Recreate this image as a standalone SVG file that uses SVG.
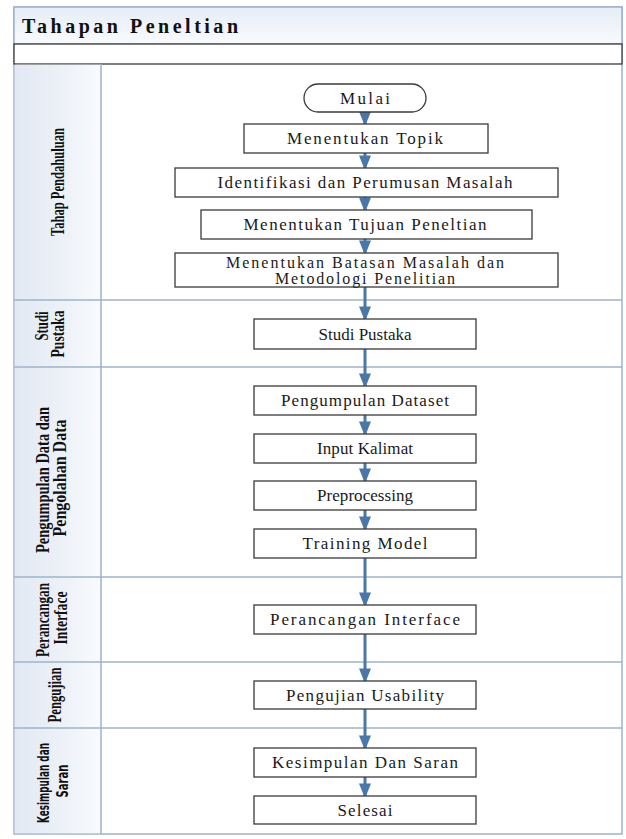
<svg xmlns="http://www.w3.org/2000/svg" width="626" height="839" viewBox="0 0 626 839">
<style>
.box{fill:#ffffff;stroke:#3a3a3a;stroke-width:1.3}
.t{font-family:"Liberation Serif","Times New Roman",serif;font-size:17px;fill:#1a1a1a;text-anchor:middle;dominant-baseline:central}
.t2{font-family:"Liberation Serif","Times New Roman",serif;font-size:16px;fill:#1a1a1a;text-anchor:middle;dominant-baseline:central}
.lane{stroke:#9db3cb;stroke-width:1.5;fill:none}
.lbl{font-family:"Liberation Serif","Times New Roman",serif;font-weight:bold;font-size:18px;fill:#111;text-anchor:middle;dominant-baseline:central}
.lbls{font-family:"DejaVu Sans Condensed","Liberation Sans",sans-serif;font-weight:bold;font-size:15px;fill:#111;text-anchor:middle;dominant-baseline:central}
.arr{stroke:#4a77a9;stroke-width:3;fill:none;marker-end:url(#ah)}
</style>
<defs>
<marker id="ah" markerWidth="5" markerHeight="4" refX="4.2" refY="2" orient="auto" markerUnits="strokeWidth">
<path d="M0,0 L5,2 L0,4 z" fill="#4a77a9"/>
</marker>
<linearGradient id="gTitle" x1="0" y1="0" x2="0" y2="1">
<stop offset="0" stop-color="#e6edf6"/>
<stop offset="1" stop-color="#f8fafd"/>
</linearGradient>
<linearGradient id="gLbl" x1="0" y1="0" x2="1" y2="0">
<stop offset="0" stop-color="#e2e9f3"/>
<stop offset="0.6" stop-color="#eef2f8"/>
<stop offset="1" stop-color="#f9fbfd"/>
</linearGradient>
</defs>

<g id="frame">
<rect x="14" y="7" width="608" height="827" fill="#ffffff" stroke="#9db3cb" stroke-width="1.5"/>
<rect x="14" y="7" width="608" height="37" fill="url(#gTitle)" stroke="#9db3cb" stroke-width="1.5"/>
<text x="22" y="26" font-family="Liberation Serif,'Times New Roman',serif" font-weight="bold" font-size="20" fill="#111" dominant-baseline="central" textLength="216" lengthAdjust="spacing">Tahapan Peneltian</text>
<rect x="14" y="44" width="608" height="20" fill="#ffffff" stroke="#3a3a3a" stroke-width="1.3"/>
<rect x="14.75" y="64.7" width="86.5" height="768.5" fill="url(#gLbl)"/>
<line class="lane" x1="101" y1="64" x2="101" y2="834"/>
<line class="lane" x1="14" y1="300" x2="622" y2="300"/>
<line class="lane" x1="14" y1="367" x2="622" y2="367"/>
<line class="lane" x1="14" y1="577" x2="622" y2="577"/>
<line class="lane" x1="14" y1="662" x2="622" y2="662"/>
<line class="lane" x1="14" y1="728" x2="622" y2="728"/>
</g>

<g id="lane-labels">
<text class="lbl" transform="translate(58,182) rotate(-90)" textLength="108" lengthAdjust="spacingAndGlyphs">Tahap Pendahuluan</text>
<text class="lbl" transform="translate(42,326) rotate(-90)" textLength="29" lengthAdjust="spacingAndGlyphs">Studi</text>
<text class="lbl" transform="translate(58,334) rotate(-90)" textLength="47" lengthAdjust="spacingAndGlyphs">Pustaka</text>
<text class="lbl" transform="translate(43,480) rotate(-90)" textLength="146" lengthAdjust="spacingAndGlyphs">Pengumpulan Data dan</text>
<text class="lbl" transform="translate(60,478) rotate(-90)" textLength="117" lengthAdjust="spacingAndGlyphs">Pengolahan Data</text>
<text class="lbl" transform="translate(43,620) rotate(-90)" textLength="74" lengthAdjust="spacingAndGlyphs">Perancangan</text>
<text class="lbl" transform="translate(61,618) rotate(-90)" textLength="53" lengthAdjust="spacingAndGlyphs">Interface</text>
<text class="lbl" transform="translate(55,695) rotate(-90)" textLength="55" lengthAdjust="spacingAndGlyphs">Pengujian</text>
<text class="lbls" transform="translate(44,783) rotate(-90)" textLength="80" lengthAdjust="spacingAndGlyphs">Kesimpulan dan</text>
<text class="lbls" transform="translate(63,781) rotate(-90)" textLength="33" lengthAdjust="spacingAndGlyphs">Saran</text>
</g>

<g id="connectors">
<line class="arr" x1="365" y1="112" x2="365" y2="124"/>
<line class="arr" x1="365" y1="153" x2="365" y2="168"/>
<line class="arr" x1="365" y1="197" x2="365" y2="210"/>
<line class="arr" x1="365" y1="239" x2="365" y2="253"/>
<line class="arr" x1="365" y1="287" x2="365" y2="319"/>
<line class="arr" x1="365" y1="349" x2="365" y2="386"/>
<line class="arr" x1="365" y1="415" x2="365" y2="434"/>
<line class="arr" x1="365" y1="463" x2="365" y2="481"/>
<line class="arr" x1="365" y1="510" x2="365" y2="529"/>
<line class="arr" x1="365" y1="558" x2="365" y2="605"/>
<line class="arr" x1="365" y1="634" x2="365" y2="681"/>
<line class="arr" x1="365" y1="709" x2="365" y2="748"/>
<line class="arr" x1="365" y1="777" x2="365" y2="796"/>
</g>

<g id="n-mulai">
<rect class="box" x="304" y="84" width="122" height="28" rx="14" ry="14"/>
<text class="t" x="365" y="98" textLength="50" lengthAdjust="spacing">Mulai</text>
</g>
<g id="n-topik">
<rect class="box" x="244" y="124" width="244" height="29"/>
<text class="t" x="365" y="138.5" textLength="156" lengthAdjust="spacing">Menentukan Topik</text>
</g>
<g id="n-identifikasi">
<rect class="box" x="175" y="168" width="383" height="29"/>
<text class="t" x="365" y="182.5" textLength="295" lengthAdjust="spacing">Identifikasi dan Perumusan Masalah</text>
</g>
<g id="n-tujuan">
<rect class="box" x="201" y="210" width="331" height="29"/>
<text class="t" x="365" y="224.5" textLength="243" lengthAdjust="spacing">Menentukan Tujuan Peneltian</text>
</g>
<g id="n-batasan">
<rect class="box" x="175" y="253" width="383" height="34"/>
<text class="t2" x="365" y="262" textLength="278" lengthAdjust="spacing">Menentukan Batasan Masalah dan</text>
<text class="t2" x="365" y="278.5" textLength="180" lengthAdjust="spacing">Metodologi Penelitian</text>
</g>
<g id="n-studi">
<rect class="box" x="254" y="319" width="222" height="30"/>
<text class="t" x="365" y="334" textLength="93" lengthAdjust="spacing">Studi Pustaka</text>
</g>
<g id="n-dataset">
<rect class="box" x="254" y="386" width="222" height="29"/>
<text class="t" x="365" y="400.5" textLength="168" lengthAdjust="spacing">Pengumpulan Dataset</text>
</g>
<g id="n-input">
<rect class="box" x="254" y="434" width="222" height="29"/>
<text class="t" x="365" y="448.5" textLength="96" lengthAdjust="spacing">Input Kalimat</text>
</g>
<g id="n-prep">
<rect class="box" x="254" y="481" width="222" height="29"/>
<text class="t" x="365" y="495.5" textLength="96" lengthAdjust="spacing">Preprocessing</text>
</g>
<g id="n-training">
<rect class="box" x="254" y="529" width="222" height="29"/>
<text class="t" x="365" y="543.5" textLength="125" lengthAdjust="spacing">Training Model</text>
</g>
<g id="n-perancangan">
<rect class="box" x="254" y="605" width="222" height="29"/>
<text class="t" x="365" y="619.5" textLength="190" lengthAdjust="spacing">Perancangan Interface</text>
</g>
<g id="n-pengujian">
<rect class="box" x="254" y="681" width="222" height="28"/>
<text class="t" x="365" y="695" textLength="158" lengthAdjust="spacing">Pengujian Usability</text>
</g>
<g id="n-kesimpulan">
<rect class="box" x="254" y="748" width="222" height="29"/>
<text class="t" x="365" y="762.5" textLength="186" lengthAdjust="spacing">Kesimpulan Dan Saran</text>
</g>
<g id="n-selesai">
<rect class="box" x="254" y="796" width="222" height="28"/>
<text class="t" x="365" y="810" textLength="55" lengthAdjust="spacing">Selesai</text>
</g>
</svg>
